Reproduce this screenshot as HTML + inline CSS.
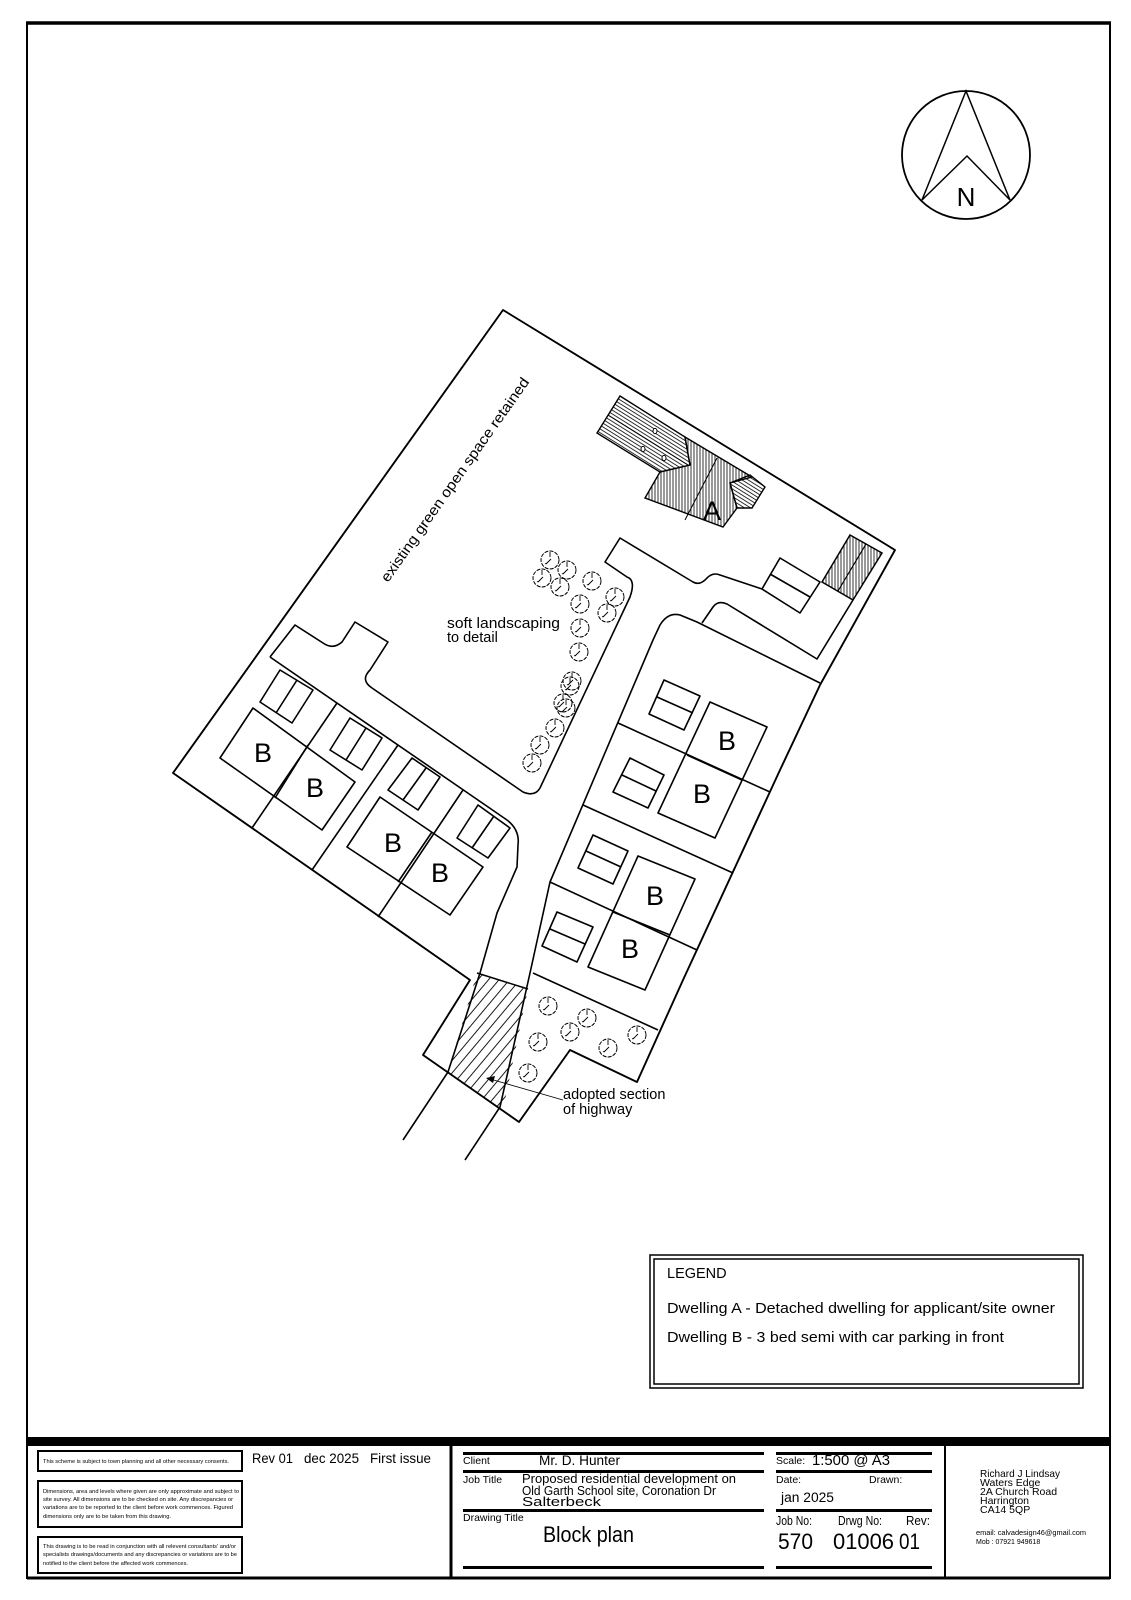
<!DOCTYPE html>
<html><head><meta charset="utf-8"><style>html,body{margin:0;padding:0;background:#fff}svg{display:block}</style></head>
<body>
<svg width="1131" height="1600" viewBox="0 0 1131 1600" xmlns="http://www.w3.org/2000/svg" font-family="Liberation Sans, Arial, sans-serif">
<defs>
<pattern id="hv" width="3" height="3" patternUnits="userSpaceOnUse"><line x1="1" y1="0" x2="1" y2="3" stroke="#000" stroke-width="0.8"/></pattern>
<pattern id="hw" width="3.2" height="3.2" patternUnits="userSpaceOnUse" patternTransform="rotate(32)"><line x1="0" y1="1" x2="3.2" y2="1" stroke="#000" stroke-width="0.8"/></pattern>
<pattern id="hd" width="8" height="8" patternUnits="userSpaceOnUse" patternTransform="rotate(-50)"><line x1="0" y1="4" x2="8" y2="4" stroke="#000" stroke-width="0.9"/></pattern>
<g id="tree"><circle r="9" fill="none" stroke="#000" stroke-width="1" stroke-dasharray="4 1.2"/><path d="M-4,4 L1,-1 M0,-8 L0,-3 M-3,3 l-2,1" stroke="#000" stroke-width="0.9" fill="none"/></g>
</defs>
<rect width="1131" height="1600" fill="#fff"/>
<rect x="27" y="23" width="1083" height="1555" fill="none" stroke="#000" stroke-width="2"/>
<line x1="26" y1="23" x2="1111" y2="23" stroke="#000" stroke-width="3.5"/>
<circle cx="966" cy="155" r="64" fill="none" stroke="#000" stroke-width="1.8"/>
<path d="M966,91 L922,200 L967,156 L1010,200 Z" fill="none" stroke="#000" stroke-width="1.5"/>
<text x="966" y="206" font-size="26" text-anchor="middle">N</text>

<g fill="none" stroke="#000" stroke-width="1.6" stroke-linejoin="round">
<path d="M503,310 L895,550 L820,685 L780,770 L683,980 L637,1082 L570,1050 L519,1122 L423,1055 L470,980 L380,917 L173,773 Z" stroke-width="1.9"/>
<path d="M270,657 L295,625 L323,643 Q333,650 342,642 L355,622 L388,642 L370,670 Q360,680 372,688 L523,792 Q535,797 540,788 L630,597 Q636,580 627,577 L605,562 L620,538 L693,582 Q700,586 707,578 Q713,572 720,575 L762,589"/>
<path d="M270,657 L507,820 Q520,830 518,845 L517,867 L497,913 L480,973 L448,1072 L403,1140"/>
<path d="M465,1160 L500,1107 L530,973 L550,882 L653,640 L660,625 Q668,612 680,615 L697,622 L820,683"/>
<path d="M702,623 L713,607 Q718,600 727,604 L817,659 L853,600"/>
<path d="M780,558 L820,582 L800,613 L762,589 Z M770,574 L810,597"/>
<path d="M337,703 L252,828 M398,745 L312,870 M463,790 L378,917"/>
<path d="M618,723 L770,792 M583,805 L733,873 M550,882 L697,950 M533,973 L658,1030"/>
<path d="M253,708 L355,782 L322,830 L220,758 Z M308,745 L275,798"/>
<path d="M380,797 L483,867 L450,915 L347,847 Z M432,832 L398,882"/>
<path d="M280,670 L313,690 L292,723 L260,702 Z M297,680 L276,713"/>
<path d="M350,718 L382,738 L362,770 L330,750 Z M366,728 L346,760"/>
<path d="M412,758 L440,777 L418,810 L388,790 Z M426,768 L403,800"/>
<path d="M478,805 L510,828 L488,858 L457,838 Z M494,816 L472,848"/>
<path d="M710,702 L767,727 L715,838 L658,813 Z M687,755 L742,780"/>
<path d="M638,856 L695,879 L645,990 L588,967 Z M613,912 L670,935"/>
<path d="M664,680 L700,696 L684,730 L649,714 Z M657,697 L693,713"/>
<path d="M630,758 L664,775 L648,808 L613,792 Z M622,775 L656,791"/>
<path d="M593,835 L628,851 L613,884 L578,868 Z M586,851 L621,867"/>
<path d="M557,912 L593,927 L577,962 L542,946 Z M550,929 L585,944"/>
</g>
<path d="M850,535 L882,553 L853,600 L822,582 Z" fill="url(#hv)" stroke="#000" stroke-width="1.5"/>
<line x1="866" y1="544" x2="838" y2="591" stroke="#000" stroke-width="1.2"/>
<path d="M620,396 L685,437 L690,465 L660,472 L597,433 Z" fill="url(#hw)" stroke="#000" stroke-width="1.4"/>
<line x1="608" y1="415" x2="688" y2="465" stroke="#000" stroke-width="1"/>
<path d="M685,437 L752,477 L730,483 L737,508 L723,527 L645,498 L660,472 L690,465 Z" fill="url(#hv)" stroke="#000" stroke-width="1.4"/>
<line x1="717" y1="458" x2="685" y2="520" stroke="#000" stroke-width="1"/>
<path d="M730,483 L750,475 L765,487 L752,508 L737,508 Z" fill="url(#hw)" stroke="#000" stroke-width="1.4"/>
<g fill="#fff" stroke="#000" stroke-width="1"><ellipse cx="655" cy="431" rx="2" ry="2.6"/><ellipse cx="643" cy="449" rx="2" ry="2.6"/><ellipse cx="664" cy="458" rx="2" ry="2.6"/></g>
<text x="712" y="520" font-size="27" text-anchor="middle">A</text>
<path d="M477,973 L528,989 L503,1110 L448,1072 Z" fill="url(#hd)" stroke="none"/>
<path d="M477,973 L528,989" stroke="#000" stroke-width="1.5"/>
<line x1="563" y1="1100" x2="490" y2="1079" stroke="#000" stroke-width="0.9"/>
<path d="M486,1078 L495,1076 L493,1083 Z" fill="#000"/>
<g>
<use href="#tree" x="550" y="560"/><use href="#tree" x="567" y="570"/><use href="#tree" x="542" y="578"/><use href="#tree" x="560" y="587"/>
<use href="#tree" x="592" y="581"/><use href="#tree" x="615" y="597"/><use href="#tree" x="607" y="613"/><use href="#tree" x="580" y="604"/>
<use href="#tree" x="580" y="628"/><use href="#tree" x="579" y="652"/><use href="#tree" x="572" y="681"/><use href="#tree" x="570" y="686"/>
<use href="#tree" x="563" y="703"/><use href="#tree" x="566" y="708"/><use href="#tree" x="555" y="728"/><use href="#tree" x="540" y="745"/><use href="#tree" x="532" y="763"/>
<use href="#tree" x="548" y="1006"/><use href="#tree" x="587" y="1018"/><use href="#tree" x="570" y="1032"/><use href="#tree" x="538" y="1042"/>
<use href="#tree" x="608" y="1048"/><use href="#tree" x="637" y="1035"/><use href="#tree" x="528" y="1073"/>
</g>
<g font-size="27" text-anchor="middle">
<text x="263" y="762">B</text><text x="315" y="797">B</text><text x="393" y="852">B</text><text x="440" y="882">B</text>
<text x="727" y="750">B</text><text x="702" y="803">B</text><text x="655" y="905">B</text><text x="630" y="958">B</text>
</g>
<text x="0" y="0" font-size="14.5" transform="translate(388,583) rotate(-54.8)" textLength="246" lengthAdjust="spacingAndGlyphs">existing green open space retained</text>
<g font-size="14.5">
<text x="447" y="628" textLength="113" lengthAdjust="spacingAndGlyphs">soft landscaping</text>
<text x="447" y="642">to detail</text>
<text x="563" y="1099">adopted section</text>
<text x="563" y="1114">of highway</text>
</g>
<rect x="650" y="1255" width="433" height="133" fill="none" stroke="#000" stroke-width="1.5"/>
<rect x="654" y="1259" width="425" height="125" fill="none" stroke="#000" stroke-width="1.5"/>
<text x="667" y="1278" font-size="14.5">LEGEND</text>
<text x="667" y="1313" font-size="15" textLength="388" lengthAdjust="spacingAndGlyphs">Dwelling A - Detached dwelling for applicant/site owner</text>
<text x="667" y="1342" font-size="15" textLength="337" lengthAdjust="spacingAndGlyphs">Dwelling B - 3 bed semi with car parking in front</text>
<rect x="27" y="1437" width="1083" height="9" fill="#000"/>
<line x1="451" y1="1446" x2="451" y2="1578" stroke="#000" stroke-width="3"/>
<line x1="945" y1="1446" x2="945" y2="1578" stroke="#000" stroke-width="2"/>
<line x1="27" y1="1578" x2="1110" y2="1578" stroke="#000" stroke-width="3"/>
<g fill="#000">
<rect x="463" y="1452" width="301" height="3"/><rect x="463" y="1470" width="301" height="3"/><rect x="463" y="1509" width="301" height="3"/><rect x="463" y="1566" width="301" height="3"/>
<rect x="776" y="1452" width="156" height="3"/><rect x="776" y="1470" width="156" height="3"/><rect x="776" y="1509" width="156" height="3"/><rect x="776" y="1566" width="156" height="3"/>
</g>
<g fill="none" stroke="#000" stroke-width="2">
<rect x="38" y="1451" width="204" height="20"/><rect x="38" y="1481" width="204" height="46"/><rect x="38" y="1537" width="204" height="36"/>
</g>
<g font-size="5.6">
<text x="43" y="1463" textLength="186" lengthAdjust="spacingAndGlyphs">This scheme is subject to town planning and all other necessary consents.</text>
<text x="43" y="1493" textLength="196" lengthAdjust="spacingAndGlyphs">Dimensions, area and levels where given are only approximate and subject to</text>
<text x="43" y="1501" textLength="190" lengthAdjust="spacingAndGlyphs">site survey. All dimensions are to be checked on site. Any discrepancies or</text>
<text x="43" y="1509" textLength="190" lengthAdjust="spacingAndGlyphs">variations are to be reported to the client before work commences. Figured</text>
<text x="43" y="1518" textLength="128" lengthAdjust="spacingAndGlyphs">dimensions only are to be taken from this drawing.</text>
<text x="43" y="1548" textLength="193" lengthAdjust="spacingAndGlyphs">This drawing is to be read in conjunction with all relevent consultants' and/or</text>
<text x="43" y="1556" textLength="194" lengthAdjust="spacingAndGlyphs">specialists drawings/documents and any discrepancies or variations are to be</text>
<text x="43" y="1565" textLength="145" lengthAdjust="spacingAndGlyphs">notified to the client before the affected work commences.</text>
</g>
<g font-size="14">
<text x="252" y="1463" textLength="41" lengthAdjust="spacingAndGlyphs">Rev 01</text>
<text x="304" y="1463" textLength="55" lengthAdjust="spacingAndGlyphs">dec 2025</text>
<text x="370" y="1463" textLength="61" lengthAdjust="spacingAndGlyphs">First issue</text>
</g>
<g font-size="10.5">
<text x="463" y="1464">Client</text><text x="463" y="1483">Job Title</text><text x="463" y="1521">Drawing Title</text>
<text x="776" y="1464">Scale:</text><text x="776" y="1483">Date:</text><text x="869" y="1483">Drawn:</text>
</g>
<g font-size="13.5">
<text x="539" y="1465" textLength="81" lengthAdjust="spacingAndGlyphs">Mr. D. Hunter</text>
<text x="522" y="1483" font-size="12.5" textLength="214" lengthAdjust="spacingAndGlyphs">Proposed residential development on</text>
<text x="522" y="1495" font-size="12.5" textLength="194" lengthAdjust="spacingAndGlyphs">Old Garth School site, Coronation Dr</text>
<text x="522" y="1506" font-size="12.5" textLength="79" lengthAdjust="spacingAndGlyphs">Salterbeck</text>
<text x="812" y="1465" font-size="15" textLength="78" lengthAdjust="spacingAndGlyphs">1:500 @ A3</text>
<text x="781" y="1502" textLength="53" lengthAdjust="spacingAndGlyphs">jan 2025</text>
<text x="776" y="1525" font-size="13" textLength="36" lengthAdjust="spacingAndGlyphs">Job No:</text>
<text x="838" y="1525" font-size="13" textLength="44" lengthAdjust="spacingAndGlyphs">Drwg No:</text>
<text x="906" y="1525" font-size="13" textLength="24" lengthAdjust="spacingAndGlyphs">Rev:</text>
</g>
<g font-size="22">
<text x="543" y="1542" textLength="91" lengthAdjust="spacingAndGlyphs">Block plan</text>
<text x="778" y="1549" textLength="35" lengthAdjust="spacingAndGlyphs">570</text>
<text x="833" y="1549" textLength="61" lengthAdjust="spacingAndGlyphs">01006</text>
<text x="899" y="1549" textLength="21" lengthAdjust="spacingAndGlyphs">01</text>
</g>
<g font-size="10.5">
<text x="980" y="1477" textLength="80" lengthAdjust="spacingAndGlyphs">Richard J Lindsay</text>
<text x="980" y="1486">Waters Edge</text>
<text x="980" y="1495">2A Church Road</text>
<text x="980" y="1504">Harrington</text>
<text x="980" y="1513">CA14 5QP</text>
</g>
<text x="976" y="1535" font-size="7" textLength="110" lengthAdjust="spacingAndGlyphs">email: calvadesign46@gmail.com</text>
<text x="976" y="1544" font-size="7">Mob : 07921 949618</text>
</svg>
</body></html>
